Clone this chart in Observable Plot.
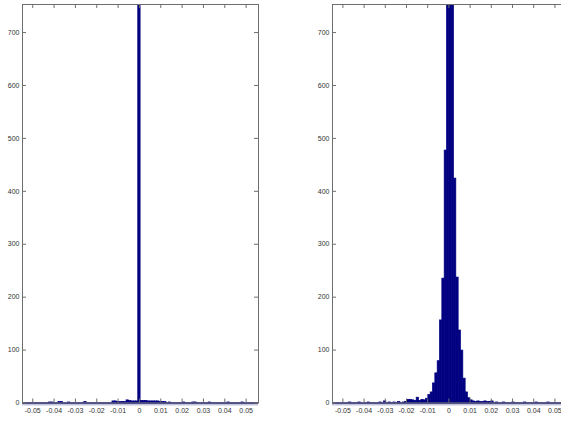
<!DOCTYPE html>
<html>
<head>
<meta charset="utf-8">
<script src="https://cdn.jsdelivr.net/npm/d3@7"></script>
<script src="https://cdn.jsdelivr.net/npm/@observablehq/plot@0.6"></script>
<style>
  html, body { margin: 0; padding: 0; background: #fff; }
  #wrap { position: relative; width: 561px; height: 421px; overflow: hidden; background: #fff; }
  .panel { position: absolute; top: 0; width: 280px; height: 421px; }
  .panel svg { max-width: none !important; display: block; }
</style>
</head>
<body>
<div id="wrap">
  <div class="panel" id="left" style="left:0px"></div>
  <div class="panel" id="right" style="left:310px"></div>
</div>
<script>
// ---- data ----
const binWidth = 0.0011;

// left panel: bin centers and counts (spike at 0 runs far off the top)
const leftCenters = [-0.0418, -0.0407, -0.0374, -0.0363, -0.033, -0.0253,
  -0.0121, -0.011, -0.0099, -0.0088, -0.0077, -0.0066, -0.0055, -0.0044,
  -0.0033, -0.0022, -0.0011, 0, 0.0011, 0.0022, 0.0033, 0.0044, 0.0055,
  0.0066, 0.0077, 0.0088, 0.0099, 0.011, 0.0121, 0.0143, 0.0209, 0.0253,
  0.0264, 0.033, 0.0418, 0.0484];
const leftCounts = [1, 1, 2, 2, 1, 2,
  3, 3, 2, 2, 2, 2, 5, 4,
  3, 3, 3, 3000, 4, 4, 4, 3, 3,
  3, 3, 3, 2, 2, 2, 1, 1, 1,
  1, 1, 1, 1];

// right panel: bin centers and counts (three central bins run off the top)
const rightCenters = [-0.04655, -0.04215, -0.03775, -0.03225, -0.03005, -0.02785,
  -0.02565, -0.02345, -0.02125, -0.02015, -0.01905, -0.01795, -0.01685,
  -0.01575, -0.01465, -0.01355, -0.01245, -0.01135, -0.01025, -0.00915,
  -0.00805, -0.00695, -0.00585, -0.00475, -0.00365, -0.00255, -0.00145,
  -0.00035, 0.00075, 0.00185,
  0.00295, 0.00405, 0.00515, 0.00625, 0.00735, 0.00845, 0.00955, 0.01065,
  0.01175, 0.01285, 0.01395, 0.01505, 0.01615, 0.01725, 0.01835, 0.01945,
  0.02055, 0.02275, 0.02605, 0.03045, 0.03595, 0.04145, 0.04695];
const rightCounts = [1, 1, 1, 1, 3, 1,
  1, 2, 1, 2, 6, 6, 5, 4,
  10, 4, 6, 5, 8, 15,
  20, 37, 56, 79, 156, 235, 477,
  1200, 1500, 1000,
  424, 237, 137, 99, 46, 20, 9, 5,
  3, 2, 3, 2, 2, 3, 2, 2,
  3, 1, 1, 1, 1, 1, 1];

const xTicks = [-0.05, -0.04, -0.03, -0.02, -0.01, 0, 0.01, 0.02, 0.03, 0.04, 0.05];
const yTicks = [0, 100, 200, 300, 400, 500, 600, 700];
const yDomain = [0, 753];
const leftXDomain = [-0.0548, 0.0558];
const rightXDomain = [-0.0549, 0.0564];

// ---- drawing ----
const W = 280, H = 421, mL = 22, mR = 22, mT = 4, mB = 18.5;
const pw = W - mL - mR, ph = H - mT - mB, tk = 4;
const barColor = "#000080";
const axisColor = "#6e6e6e";
const textColor = "#333333";
const fmt = d => d === 0 ? "0" : d.toFixed(2);

function panel(centers, counts, xDomain) {
  const data = centers.map((c, i) => ({c, n: counts[i]}));
  const svg = Plot.plot({
    width: W, height: H,
    marginLeft: mL, marginRight: mR, marginTop: mT, marginBottom: mB,
    x: {domain: xDomain, axis: null},
    y: {domain: yDomain, axis: null},
    style: {background: "transparent", fontFamily: "'Liberation Sans', Arial, sans-serif", fontSize: "7px", overflow: "visible", maxWidth: "none"},
    marks: [
      Plot.rectY(data, {
        x1: d => d.c - binWidth / 2, x2: d => d.c + binWidth / 2, y: "n",
        fill: barColor, stroke: barColor, strokeWidth: 0.7, clip: true
      }),
      Plot.ruleY([0], {stroke: "#c4c4dc", strokeWidth: 2, dy: 1.5}),
      Plot.ruleY([0], {stroke: barColor, strokeWidth: 1.4}),
      Plot.frame({stroke: axisColor}),
      Plot.tickX(xTicks, {x: d => d, stroke: axisColor, insetTop: ph - tk}),
      Plot.tickX(xTicks, {x: d => d, stroke: axisColor, insetBottom: ph - tk}),
      Plot.tickY(yTicks, {y: d => d, stroke: axisColor, insetRight: pw - tk}),
      Plot.tickY(yTicks, {y: d => d, stroke: axisColor, insetLeft: pw - tk}),
      Plot.axisX(xTicks, {tickSize: 0, tickPadding: 5, tickFormat: fmt, fill: textColor, label: null}),
      Plot.axisY(yTicks, {tickSize: 0, tickPadding: 3, tickFormat: d => String(d), fill: textColor, label: null})
    ]
  });
  return svg;
}

document.getElementById("left").appendChild(panel(leftCenters, leftCounts, leftXDomain));
document.getElementById("right").appendChild(panel(rightCenters, rightCounts, rightXDomain));
</script>
</body>
</html>
